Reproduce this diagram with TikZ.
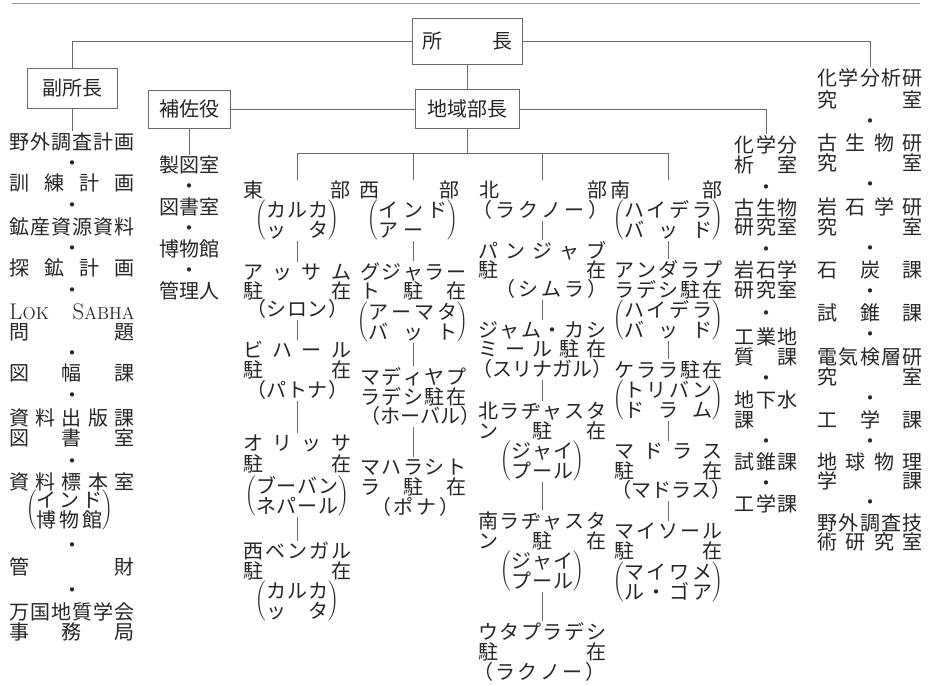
\documentclass[tikz,border=0pt]{standalone}
\usepackage{fontspec}
\newfontfamily\cjk{Noto Sans CJK JP}
\newlength\pxu \setlength\pxu{0.75pt}
\makeatletter
\newif\ifsprfirst
\newcommand\spr[1]{\sprfirsttrue\@tfor\spr@c:=#1\do{\ifsprfirst\sprfirstfalse\else\hfill\fi\spr@c}}
\makeatother
\newcommand\dst[2]{\makebox[#1\pxu][s]{\vphantom{国}\spr{#2}}}
\newcommand\pb[2]{$\left(\vcenter{\baselineskip=15pt\lineskiplimit=-30pt\lineskip=0pt\hbox{#1}\hbox{#2}}\right)$}
\newcommand\dt{\vphantom{国}・}
\newcommand\lsc[2]{{\normalfont\fontsize{17}{17}\selectfont #1\fontsize{13}{13}\selectfont #2}}
\newcommand\vl[2]{\draw[cn] (#2.north) -- (#2.north |- #1.south);}
\definecolor{ink}{HTML}{262626}
\definecolor{ln}{HTML}{6a6a6a}
\begin{document}
\begin{tikzpicture}[x=0.75pt,y=-0.75pt,
 txt/.style={font=\cjk\fontsize{15}{15}\selectfont, text=ink, inner sep=0.75pt},
 frm/.style={txt, draw=ln, line width=0.6pt, inner sep=0pt},
 cn/.style={draw=ln, line width=0.6pt}]
\fill[white] (0,0) rectangle (929,686);
\useasboundingbox (0,0) rectangle (929,686);
% top rule
\coordinate (r1) at (12,3); \coordinate (r2) at (920,3);
\draw[cn, draw=black!40] (r1) -- (r2);
% boxes
\node[frm, minimum width=82.5pt, minimum height=34.5pt] (shocho) at (467,41) {\dst{90}{所長}};
\node[frm, minimum width=78pt, minimum height=29.25pt] (chiiki) at (467,109) {地域部長};
\node[frm, minimum width=67.5pt, minimum height=30pt] (fuku) at (72,88) {副所長};
\node[frm, minimum width=61.5pt, minimum height=28.5pt] (hosa) at (189,109) {補佐役};
% left column
\begin{scope}[every node/.style={txt}]
\node (L1) at (72,142) {\dst{125}{野外調査計画}};
\node (Ld1) at (72,163) {\dt};
\node (L2) at (72,183) {\dst{125}{訓練計画}};
\node (Ld2) at (72,205) {\dt};
\node (L3) at (72,227) {\dst{125}{鉱産資源資料}};
\node (Ld3) at (72,248) {\dt};
\node (L4) at (72,268) {\dst{125}{探鉱計画}};
\node (Ld4) at (72,290) {\dt};
\node (L5) at (72,312) {\makebox[125\pxu][s]{\vphantom{国}\lsc{L}{OK}\hfill\lsc{S}{ABHA}}};
\node (L6) at (72,332) {\dst{125}{問題}};
\node (Ld5) at (72,353) {\dt};
\node (L7) at (72,373) {\dst{125}{図幅課}};
\node (Ld6) at (72,395) {\dt};
\node (L8) at (72,418) {\dst{125}{資料出版課}};
\node (L9) at (72,438) {\dst{125}{図書室}};
\node (Ld7) at (72,461) {\dt};
\node (L10) at (72,482) {\dst{125}{資料標本室}};
\node (L11) at (70,510) {\pb{\dst{66}{インド}}{\dst{66}{博物館}}};
\node (Ld8) at (72,545) {\dt};
\node (L12) at (72,567) {\dst{125}{管財}};
\node (Ld9) at (72,590) {\dt};
\node (L13) at (72,612) {\dst{125}{万国地質学会}};
\node (L14) at (72,632) {\dst{125}{事務局}};
% hosa column
\node (H1) at (189,165) {製図室};
\node (Hd1) at (189,186) {\dt};
\node (H2) at (189,207) {図書室};
\node (Hd2) at (189,228) {\dt};
\node (H3) at (189,249) {博物館};
\node (Hd3) at (189,270) {\dt};
\node (H4) at (189,291) {管理人};
% east
\node (E0) at (297,190) {\dst{107}{東部}};
\node (E1) at (297,220) {\pb{\dst{62}{カルカ}}{\dst{62}{ッタ}}};
\node (E2) at (297,272) {\dst{108}{アッサム}};
\node (E3) at (297,291) {\dst{108}{駐在}};
\node (E4) at (297,309) {\dst{102}{（シロン）}};
\node (E5) at (297,350) {\dst{108}{ビハール}};
\node (E6) at (297,370) {\dst{108}{駐在}};
\node (E7) at (297,390) {\dst{102}{（パトナ）}};
\node (E8) at (297,443) {\dst{108}{オリッサ}};
\node (E9) at (297,464) {\dst{108}{駐在}};
\node (E10) at (297,496) {\pb{\dst{82}{ブーバン}}{\dst{82}{ネパール}}};
\node (E11) at (297,551) {\dst{108}{西ベンガル}};
\node (E12) at (297,571) {\dst{108}{駐在}};
\node (E13) at (297,601) {\pb{\dst{62}{カルカ}}{\dst{62}{ッタ}}};
% west
\node (W0) at (409,190) {\dst{100}{西部}};
\node (W1) at (413,220) {\pb{\dst{69}{インド}}{\makebox[69\pxu][l]{\vphantom{国}ア\hspace{3.4pt}ー}}};
\node (W2) at (413,272) {\dst{106}{グジャラー}};
\node (W3) at (413,291) {\dst{106}{ト駐在}};
\node (W4) at (413,322) {\pb{\dst{89}{アーマタ}}{\dst{89}{バット}}};
\node (W5) at (413,377) {\dst{106}{マディヤプ}};
\node (W6) at (413,397) {\dst{106}{ラデシ駐在}};
\node (W7) at (413,416) {\dst{106}{（ホーバル）}};
\node (W8) at (413,467) {\dst{106}{マハラシト}};
\node (W9) at (413,487) {\dst{106}{ラ駐在}};
\node (W10) at (415,507) {\dst{88}{（ポナ）}};
% north
\node (N0) at (543,190) {\dst{128}{北部}};
\node (N1) at (540,210) {\dst{136}{（ラクノー）}};
\node (N2) at (542,251) {\dst{128}{パンジャブ}};
\node (N3) at (542,270) {\dst{128}{駐在}};
\node (N4) at (551,289) {\dst{112}{（シムラ）}};
\node (N5) at (542,330) {\dst{128}{ジャム・カシ}};
\node (N6) at (542,349) {\dst{128}{ミール駐在}};
\node (N7) at (542,369) {\dst{140}{（スリナガル）}};
\node (N8) at (542,411) {\dst{128}{北ラヂャスタ}};
\node (N9) at (542,431) {\dst{128}{ン駐在}};
\node (N10) at (542,461) {\pb{\dst{62}{ジャイ}}{\dst{62}{プール}}};
\node (N11) at (542,521) {\dst{128}{南ラヂャスタ}};
\node (N12) at (542,541) {\dst{128}{ン駐在}};
\node (N13) at (542,571) {\pb{\dst{62}{ジャイ}}{\dst{62}{プール}}};
\node (N14) at (542,632) {\dst{128}{ウタプラデシ}};
\node (N15) at (542,652) {\dst{128}{駐在}};
\node (N16) at (539,672) {\dst{132}{（ラクノー）}};
% south
\node (S0) at (666,190) {\dst{112}{南部}};
\node (S1) at (668,220) {\pb{\dst{88}{ハイデラ}}{\dst{88}{バッド}}};
\node (S2) at (668,270) {\dst{108}{アンダラプ}};
\node (S3) at (668,290) {\dst{108}{ラデシ駐在}};
\node (S4) at (668,320) {\pb{\dst{88}{ハイデラ}}{\dst{88}{バッド}}};
\node (S5) at (668,370) {\dst{108}{ケララ駐在}};
\node (S6) at (668,400) {\pb{\dst{88}{トリバン}}{\dst{88}{ドラム}}};
\node (S7) at (668,451) {\dst{108}{マドラス}};
\node (S8) at (668,471) {\dst{108}{駐在}};
\node (S9) at (668,490) {\dst{114}{（マドラス）}};
\node (S10) at (668,531) {\dst{108}{マイソール}};
\node (S11) at (668,551) {\dst{108}{駐在}};
\node (S12) at (668,582) {\pb{\dst{88}{マイワメ}}{\dst{88}{ル・ゴア}}};
% chem column
\node (C1) at (766,145) {\dst{63}{化学分}};
\node (C2) at (766,165) {\dst{63}{析室}};
\node (Cd1) at (766,187) {\dt};
\node (C3) at (766,208) {\dst{63}{古生物}};
\node (C4) at (766,227) {\dst{63}{研究室}};
\node (Cd2) at (766,249) {\dt};
\node (C5) at (766,270) {\dst{63}{岩石学}};
\node (C6) at (766,290) {\dst{63}{研究室}};
\node (Cd3) at (766,313) {\dt};
\node (C7) at (766,337) {\dst{63}{工業地}};
\node (C8) at (766,357) {\dst{63}{質課}};
\node (Cd4) at (766,378) {\dt};
\node (C9) at (766,400) {\dst{63}{地下水}};
\node (C10) at (766,420) {\makebox[63\pxu][l]{\vphantom{国}課}};
\node (Cd5) at (766,441) {\dt};
\node (C11) at (766,462) {\dst{63}{試錐課}};
\node (Cd6) at (766,483) {\dt};
\node (C12) at (766,504) {\dst{63}{工学課}};
% right column
\node (R1) at (870,78) {\dst{105}{化学分析研}};
\node (R2) at (870,100) {\dst{105}{究室}};
\node (Rd1) at (870,121) {\dt};
\node (R3) at (870,143) {\dst{105}{古生物研}};
\node (R4) at (870,163) {\dst{105}{究室}};
\node (Rd2) at (870,184) {\dt};
\node (R5) at (870,207) {\dst{105}{岩石学研}};
\node (R6) at (870,227) {\dst{105}{究室}};
\node (Rd3) at (870,248) {\dt};
\node (R7) at (870,270) {\dst{105}{石炭課}};
\node (Rd4) at (870,291) {\dt};
\node (R8) at (870,313) {\dst{105}{試錐課}};
\node (Rd5) at (870,334) {\dt};
\node (R9) at (870,357) {\dst{105}{電気検層研}};
\node (R10) at (870,377) {\dst{105}{究室}};
\node (Rd6) at (870,398) {\dt};
\node (R11) at (870,420) {\dst{105}{工学課}};
\node (Rd7) at (870,441) {\dt};
\node (R12) at (870,462) {\dst{105}{地球物理}};
\node (R13) at (870,481) {\dst{105}{学課}};
\node (Rd8) at (870,502) {\dt};
\node (R14) at (870,523) {\dst{105}{野外調査技}};
\node (R15) at (870,542) {\dst{105}{術研究室}};
\end{scope}
% connectors
\draw[cn] (fuku.north) |- (shocho.west);
\draw[cn] (shocho.east) -| (R1.north);
\draw[cn] (shocho) -- (chiiki);
\draw[cn] (hosa) -- (chiiki);
\draw[cn] (chiiki.east) -| (C1.north);
\draw[cn] (fuku) -- (L1);
\draw[cn] (hosa) -- (H1);
\coordinate (bus) at (467,153);
\coordinate (bE) at (297,153);
\coordinate (bW) at (413,153);
\coordinate (bN) at (542,153);
\coordinate (bS) at (668,153);
\draw[cn] (chiiki) -- (bus);
\draw[cn] (bE) -- (bS);
\draw[cn] (bE) -- (bE |- E0.north);
\draw[cn] (bW) -- (bW |- W0.north);
\draw[cn] (bN) -- (bN |- N0.north);
\draw[cn] (bS) -- (bS |- S0.north);
\vl{E1}{E2} \vl{E4}{E5} \vl{E7}{E8} \vl{E10}{E11}
\vl{W1}{W2} \vl{W4}{W5} \vl{W7}{W8}
\vl{N1}{N2} \vl{N4}{N5} \vl{N7}{N8} \vl{N10}{N11} \vl{N13}{N14}
\vl{S1}{S2} \vl{S4}{S5} \vl{S6}{S7} \vl{S9}{S10}
\end{tikzpicture}
\end{document}
